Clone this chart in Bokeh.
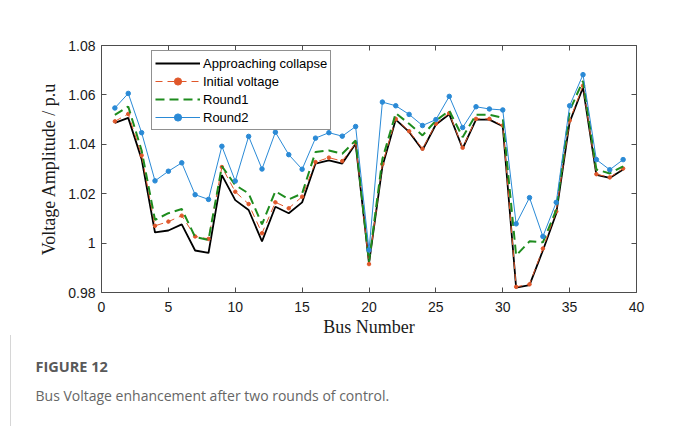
from bokeh.plotting import figure
from bokeh.models import (Range1d, LinearAxis, FixedTicker, CustomJSTickFormatter, Title)
from bokeh.embed import file_html
from bokeh.resources import INLINE

# Bus voltage magnitudes (p.u.) for the 39-bus system
bus = list(range(1, 40))
collapse = [1.0487, 1.0507, 1.0340, 1.0043, 1.0051, 1.0076, 0.9970, 0.9960, 1.0275, 1.0174,
            1.0134, 1.0007, 1.0147, 1.0121, 1.0165, 1.0322, 1.0335, 1.0322, 1.0402, 0.9918,
            1.0310, 1.0500, 1.0450, 1.0377, 1.0480, 1.0522, 1.0383, 1.0500, 1.0500, 1.0473,
            0.9820, 0.9830, 0.9970, 1.0120, 1.0490, 1.0630, 1.0276, 1.0264, 1.0298]
initial = [1.0493, 1.0523, 1.0355, 1.0070, 1.0087, 1.0111, 1.0027, 1.0017, 1.0308, 1.0208,
           1.0158, 1.0040, 1.0165, 1.0141, 1.0188, 1.0328, 1.0346, 1.0332, 1.0405, 0.9915,
           1.0320, 1.0503, 1.0453, 1.0382, 1.0483, 1.0526, 1.0386, 1.0503, 1.0503, 1.0476,
           0.9823, 0.9833, 0.9978, 1.0128, 1.0496, 1.0637, 1.0279, 1.0266, 1.0302]
round1 = [1.0519, 1.0553, 1.0375, 1.0094, 1.0121, 1.0138, 1.0025, 1.0013, 1.0311, 1.0235,
          1.0201, 1.0076, 1.0210, 1.0177, 1.0201, 1.0369, 1.0375, 1.0362, 1.0416, 0.9925,
          1.0340, 1.0526, 1.0483, 1.0436, 1.0496, 1.0536, 1.0429, 1.0520, 1.0520, 1.0507,
          0.9950, 1.0007, 1.0003, 1.0134, 1.0536, 1.0657, 1.0298, 1.0282, 1.0311]
round2 = [1.0547, 1.0606, 1.0447, 1.0252, 1.0291, 1.0325, 1.0196, 1.0177, 1.0392, 1.0251,
          1.0432, 1.0300, 1.0449, 1.0358, 1.0299, 1.0425, 1.0447, 1.0433, 1.0472, 0.9972,
          1.0571, 1.0556, 1.0521, 1.0476, 1.0500, 1.0594, 1.0468, 1.0552, 1.0543, 1.0539,
          1.0078, 1.0184, 1.0027, 1.0165, 1.0556, 1.0682, 1.0338, 1.0297, 1.0338]

x_ticks = [0, 5, 10, 15, 20, 25, 30, 35, 40]
y_ticks = [0.98, 1.0, 1.02, 1.04, 1.06, 1.08]

AXIS_COLOR = "#4d4d4d"
TICK_FONT = "Liberation Sans"
LABEL_FONT = "Liberation Serif"

p = figure(width=680, height=426, output_backend="svg", toolbar_location=None,
           x_range=Range1d(0, 40), y_range=Range1d(0.98, 1.08),
           min_border_left=101, min_border_right=44, min_border_top=45, min_border_bottom=134)
p.background_fill_color = "white"
p.border_fill_color = "white"
p.outline_line_color = None
p.xgrid.visible = False
p.ygrid.visible = False

# thin grey rule at the left edge of the caption block
p.stylesheets = [":host::after { content: ''; position: absolute; left: 10px; top: 335px; "
                 "height: 91px; border-left: 1px solid #d6d6d6; pointer-events: none; }"]

fmt = CustomJSTickFormatter(code="return Number(tick.toFixed(2)).toString();")
blank = CustomJSTickFormatter(code="return '';")

def style_axis(ax, show_labels):
    ax.axis_line_color = AXIS_COLOR
    ax.major_tick_line_color = AXIS_COLOR
    ax.minor_tick_line_color = None
    ax.major_tick_in = 5
    ax.major_tick_out = 0
    ax.major_label_text_font = TICK_FONT
    ax.major_label_text_font_size = "14px"
    ax.major_label_text_color = "#1a1a1a"
    ax.axis_label_text_font = LABEL_FONT
    ax.axis_label_text_font_size = "18px"
    ax.axis_label_text_font_style = "normal"
    ax.axis_label_text_color = "#1a1a1a"
    if not show_labels:
        ax.formatter = blank
        ax.major_label_standoff = 0

xa = p.xaxis[0]
xa.ticker = FixedTicker(ticks=x_ticks)
xa.axis_label = "Bus Number"
style_axis(xa, True)
xa.major_label_standoff = 9
xa.axis_label_standoff = 2

ya = p.yaxis[0]
ya.ticker = FixedTicker(ticks=y_ticks)
ya.formatter = fmt
ya.axis_label = "Voltage Amplitude / p.u"
style_axis(ya, True)
ya.major_label_standoff = 6
ya.axis_label_standoff = 6

top = LinearAxis(ticker=FixedTicker(ticks=x_ticks))
style_axis(top, False)
p.add_layout(top, "above")
right = LinearAxis(ticker=FixedTicker(ticks=y_ticks))
style_axis(right, False)
p.add_layout(right, "right")

BLACK = "#000000"
ORANGE = "#e0572a"
GREEN = "#1e8c1e"
BLUE = "#2a8ad6"

p.line(bus, collapse, color=BLACK, line_width=1.8, legend_label="Approaching collapse")
p.line(bus, initial, color=ORANGE, line_width=1, line_dash="7 5", legend_label="Initial voltage")
p.scatter(bus, initial, color=ORANGE, size=3.5, legend_label="Initial voltage")
p.line(bus, round1, color=GREEN, line_width=2, line_dash="9 5", legend_label="Round1")
p.line(bus, round2, color=BLUE, line_width=1, legend_label="Round2")
p.scatter(bus, round2, color=BLUE, size=4.5, legend_label="Round2")

lg = p.legend[0]
lg.location = (50, 162)
lg.background_fill_color = "white"
lg.background_fill_alpha = 1
lg.border_line_color = "#222222"
lg.border_line_width = 1
lg.label_text_font = TICK_FONT
lg.label_text_font_size = "13px"
lg.label_text_color = "#000000"
lg.glyph_width = 45
lg.glyph_height = 18
lg.label_height = 18
lg.label_standoff = 3
lg.spacing = 0
lg.padding = 3
lg.margin = 0

# Caption block under the chart
cap_head = Title(text="FIGURE 12", align="left", offset=-66, standoff=31,
                 text_font="Open Sans", text_font_size="14.5px", text_font_style="bold",
                 text_color="#595959")
cap_body = Title(text="Bus Voltage enhancement after two rounds of control.", align="left",
                 offset=-66, standoff=-16, text_font="Open Sans", text_font_size="14px",
                 text_font_style="normal", text_color="#666666")
p.add_layout(cap_head, "below")
p.add_layout(cap_body, "below")

open("out.html", "w").write(file_html(p, INLINE))
